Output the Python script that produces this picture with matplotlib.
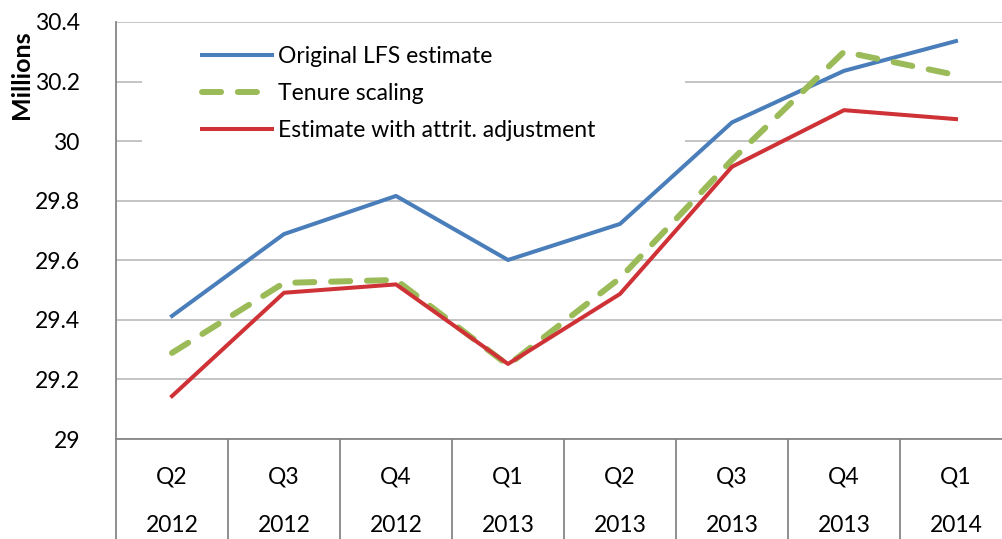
import matplotlib
matplotlib.use("Agg")
import matplotlib.pyplot as plt
import matplotlib.transforms as mtransforms
from matplotlib.patches import Rectangle

plt.rcParams['font.family'] = ['Lato', 'DejaVu Sans']

quarters = ['Q2', 'Q3', 'Q4', 'Q1', 'Q2', 'Q3', 'Q4', 'Q1']
years = ['2012', '2012', '2012', '2013', '2013', '2013', '2013', '2014']

original_lfs = [29.413, 29.688, 29.816, 29.601, 29.722, 30.063, 30.236, 30.336]
tenure_scaling = [29.289, 29.524, 29.534, 29.248, 29.540, 29.937, 30.300, 30.222]
attrit_adjusted = [29.144, 29.491, 29.519, 29.252, 29.487, 29.914, 30.104, 30.074]

yticks = [29, 29.2, 29.4, 29.6, 29.8, 30, 30.2, 30.4]
ytick_labels = ['29', '29.2', '29.4', '29.6', '29.8', '30', '30.2', '30.4']

x = list(range(len(quarters)))
fs = 16.5

fig = plt.figure(figsize=(10.02, 5.39), dpi=100)
# axes runs past the right edge, like the clipped original
ax = fig.add_axes([116 / 1002, 100 / 539, 896 / 1002, 417 / 539])

grid_col = '#bfbfbf'
axis_col = '#868686'

ax.plot(x, original_lfs, color='#4a7ebb', lw=2.9, label='Original LFS estimate', zorder=3)
ax.plot(x, tenure_scaling, color='#9bbb59', lw=4.3, dashes=(3.2, 2.8),
        dash_capstyle='round', label='Tenure scaling', zorder=4)
ax.plot(x, attrit_adjusted, color='#cf3236', lw=2.9,
        label='Estimate with attrit. adjustment', zorder=5)

ax.set_xlim(-0.5, len(quarters) - 0.5)
ax.set_ylim(29, 30.4)
ax.set_yticks(yticks)
ax.set_yticklabels(ytick_labels, fontsize=fs)
ax.tick_params(axis='y', length=0, pad=26)
ax.grid(axis='y', color=grid_col, lw=1.3)
ax.set_axisbelow(True)

for side in ['top', 'right']:
    ax.spines[side].set_visible(False)
ax.spines['left'].set_color(axis_col)
ax.spines['bottom'].set_color(axis_col)
ax.spines['left'].set_linewidth(1.3)
ax.spines['bottom'].set_linewidth(1.3)

# two-level category labels
ax.set_xticks([])
trans = mtransforms.blended_transform_factory(ax.transData, ax.transAxes)
for i in x:
    ax.annotate(quarters[i], xy=(i, 0), xycoords=trans, xytext=(0, -27.5),
                textcoords='offset points', ha='center', va='center', fontsize=fs)
    ax.annotate(years[i], xy=(i, 0), xycoords=trans, xytext=(0, -62),
                textcoords='offset points', ha='center', va='center', fontsize=fs)
for i in range(len(quarters) + 1):
    ax.plot([i - 0.5, i - 0.5], [0, -0.4], transform=trans, color=axis_col,
            lw=1.3, clip_on=False)

fig.text(22 / 1002, 1 - 75 / 539, 'Millions', rotation=90, ha='center', va='center',
         fontsize=18, fontweight='bold')

# white legend area hiding the gridlines
ax.add_patch(Rectangle((0.029, 0.669), 0.606, 0.312, transform=ax.transAxes,
                       facecolor='white', edgecolor='none', zorder=1.5))
leg = ax.legend(loc='upper left', bbox_to_anchor=(0.096, 0.943), fontsize=fs,
                handlelength=3.05, handletextpad=0.28, labelspacing=0.7,
                frameon=False, borderpad=0, borderaxespad=0)

fig.savefig('out.png', dpi=100)
